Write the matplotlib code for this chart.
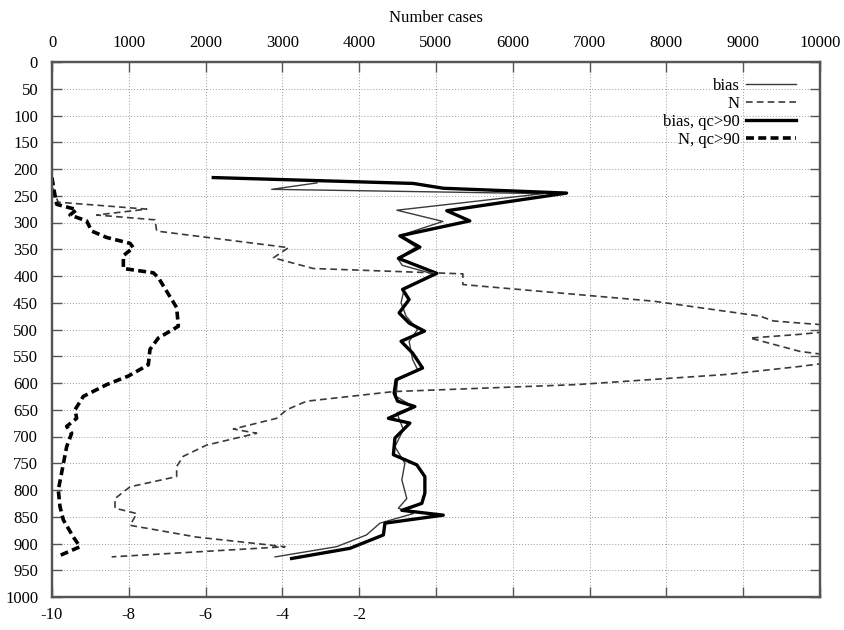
import matplotlib
matplotlib.use("Agg")
import matplotlib.pyplot as plt
from matplotlib.ticker import FixedLocator, FuncFormatter

# Mean bias profile (all data), lower axis
bias_p = [226, 238, 246, 277, 298, 325, 346, 367, 380, 396, 425, 450, 475, 500,
          522, 556, 575, 594, 625, 644, 656, 687, 719, 750, 781, 816, 834, 844,
          862, 884, 906, 925]
bias = [-3.10, -4.28, 2.80, -1.02, 0.18, -0.96, -0.52, -1.00, -0.88, -0.08,
        -0.83, -0.91, -0.78, -0.48, -0.70, -0.61, -0.48, -1.00, -1.04, -0.60,
        -1.02, -0.85, -1.07, -0.81, -0.89, -0.76, -0.98, -0.59, -1.46, -1.81,
        -2.59, -4.19]

# Mean bias profile, qc > 90
bias_qc_p = [216, 227, 236, 245, 278, 297, 325, 346, 367, 395, 425, 444, 469,
             488, 503, 522, 544, 572, 594, 619, 634, 644, 666, 675, 703, 734,
             753, 775, 806, 825, 838, 847, 862, 884, 909, 928]
bias_qc = [-5.80, -0.59, 0.19, 3.40, 0.28, 0.88, -0.94, -0.42, -0.98, 0.02,
           -0.87, -0.70, -0.96, -0.70, -0.30, -0.91, -0.61, -0.35, -1.04, -1.09,
           -1.00, -0.55, -1.24, -0.68, -1.07, -1.11, -0.50, -0.29, -0.29, -0.37,
           -0.89, 0.19, -1.33, -1.37, -2.24, -3.76]

# Number of cases (all data), upper axis
n_p = [216, 240, 262, 275, 286, 295, 316, 347, 366, 386, 396, 416, 447, 475,
       484, 488, 497, 509, 516, 541, 555, 569, 584, 603, 616, 634, 650, 666,
       686, 694, 716, 737, 756, 775, 794, 816, 834, 844, 866, 888, 906, 925]
n_cases = [0, 20, 80, 1233, 582, 1341, 1363, 3080, 2882, 3403, 5350, 5350,
           7830, 9219, 9392, 9740, 10600, 9740, 9089, 9740, 10500, 9740, 8785,
           6832, 4450, 3316, 3056, 2925, 2361, 2665, 2014, 1710, 1623, 1623,
           1016, 820, 820, 1103, 1016, 1884, 3034, 777]

# Number of cases, qc > 90
n_qc_p = [216, 230, 250, 266, 276, 286, 297, 316, 328, 339, 347, 362, 386, 394,
          403, 459, 494, 516, 537, 566, 587, 603, 625, 650, 666, 681, 694, 719,
          800, 831, 856, 888, 906, 925]
n_qc = [0, 15, 40, 61, 321, 234, 451, 516, 712, 1016, 1059, 929, 929, 1319,
        1384, 1623, 1645, 1384, 1276, 1254, 994, 712, 408, 300, 321, 191, 256,
        191, 82, 104, 148, 278, 365, 61]

pressure_ticks = list(range(0, 1001, 50))
bias_ticks = list(range(-10, 11, 2))
case_ticks = list(range(0, 10001, 1000))

plt.rcParams['font.family'] = ['Liberation Serif', 'DejaVu Serif']
plt.rcParams['font.size'] = 12

fig = plt.figure(figsize=(8.44, 6.30), dpi=100)
ax = fig.add_axes([52 / 844, 1 - 597 / 630, (820 - 52) / 844, (597 - 62) / 630])
ax2 = ax.twiny()

frame_col = '#555555'
thin_col = '#3a3a3a'

l1, = ax.plot(bias, bias_p, color=thin_col, lw=1.0, label='bias')
l3, = ax.plot(bias_qc, bias_qc_p, color='black', lw=2.4, label='bias, qc>90')
l2, = ax2.plot(n_cases, n_p, color=thin_col, lw=1.2, dashes=(4, 2.5), label='N')
l4, = ax2.plot(n_qc, n_qc_p, color='black', lw=2.6, dashes=(2.2, 1.2), label='N, qc>90')

ax.set_xlim(-10, 10)
ax.set_ylim(1000, 0)
ax2.set_xlim(0, 10000)

ax.yaxis.set_major_locator(FixedLocator(pressure_ticks))
ax.xaxis.set_major_locator(FixedLocator(bias_ticks))
ax.xaxis.set_major_formatter(FuncFormatter(lambda v, pos: f"{int(v)}" if v <= -2 else ""))
ax2.xaxis.set_major_locator(FixedLocator(case_ticks))

ax.grid(True, color='#9a9a9a', lw=0.7, linestyle=(0, (1, 2)))

ax.tick_params(axis='both', direction='in', length=7, width=1.0, color=frame_col,
               left=True, right=True, bottom=True, top=False)
ax.tick_params(axis='x', pad=7)
ax.tick_params(axis='y', pad=10)
ax2.tick_params(axis='x', direction='in', length=7, width=1.0, color=frame_col, pad=8)

for a in (ax, ax2):
    for s in a.spines.values():
        s.set_color(frame_col)
        s.set_linewidth(1.6)

ax2.set_xlabel('Number cases', labelpad=9)

leg = ax2.legend(handles=[l1, l2, l3, l4], loc='upper right', frameon=False,
                 markerfirst=False, handlelength=3.0, handletextpad=0.4,
                 labelspacing=0.12, borderaxespad=0.0,
                 bbox_to_anchor=(803 / 844, 1 - 71 / 630), bbox_transform=fig.transFigure)
for t in leg.get_texts():
    t.set_ha('right')

fig.savefig('out.png', dpi=100)
